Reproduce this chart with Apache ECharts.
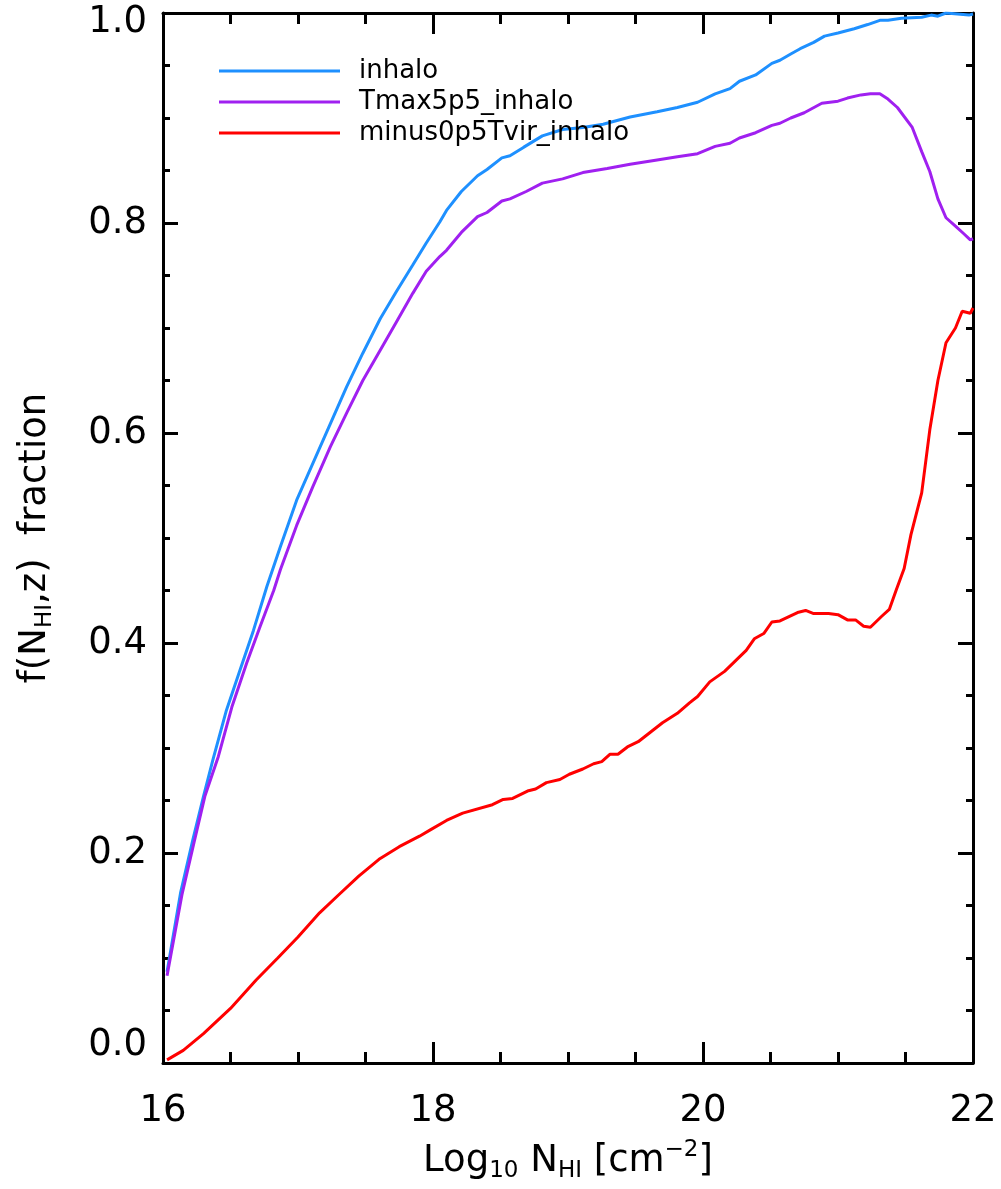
<!DOCTYPE html>
<html>
<head>
<meta charset="utf-8">
<script src="https://cdn.jsdelivr.net/npm/echarts@6/dist/echarts.min.js"></script>
<style>
  html, body { margin: 0; padding: 0; background: #fff; }
  #main { width: 1001px; height: 1189px; }
</style>
</head>
<body>
<div id="main"></div>
<script>
// values: [log10 NHI, fraction]
var inhalo = [
  [16.03,0.087],[16.13,0.162],[16.22,0.212],[16.30,0.254],[16.37,0.289],[16.47,0.336],
  [16.57,0.374],[16.67,0.412],[16.77,0.454],[16.87,0.492],[16.99,0.536],[17.11,0.571],
  [17.24,0.609],[17.36,0.644],[17.48,0.676],[17.61,0.709],[17.73,0.735],[17.85,0.760],
  [17.95,0.781],[18.05,0.801],[18.10,0.812],[18.21,0.830],[18.33,0.845],[18.40,0.851],
  [18.51,0.862],[18.57,0.864],[18.67,0.872],[18.81,0.883],[18.96,0.889],[19.11,0.891],
  [19.26,0.894],[19.46,0.901],[19.66,0.906],[19.81,0.910],[19.96,0.915],[20.09,0.923],
  [20.20,0.928],[20.27,0.935],[20.39,0.941],[20.51,0.952],[20.57,0.955],[20.65,0.961],
  [20.72,0.966],[20.82,0.972],[20.90,0.978],[21.00,0.981],[21.12,0.985],[21.22,0.989],
  [21.31,0.993],[21.37,0.993],[21.47,0.995],[21.62,0.996],[21.69,0.998],[21.74,0.997],
  [21.80,1.000],[21.97,0.998],[22.00,0.999]
];
var tmaxInhalo = [
  [16.03,0.083],[16.14,0.160],[16.23,0.210],[16.31,0.254],[16.41,0.292],[16.51,0.339],
  [16.62,0.381],[16.72,0.416],[16.82,0.450],[16.87,0.470],[16.99,0.512],[17.11,0.549],
  [17.24,0.587],[17.36,0.619],[17.48,0.650],[17.61,0.679],[17.73,0.706],[17.85,0.733],
  [17.95,0.754],[18.05,0.768],[18.10,0.774],[18.21,0.791],[18.33,0.806],[18.40,0.810],
  [18.51,0.821],[18.57,0.823],[18.69,0.830],[18.81,0.838],[18.96,0.842],[19.11,0.848],
  [19.29,0.852],[19.46,0.856],[19.66,0.860],[19.81,0.863],[19.96,0.866],[20.09,0.873],
  [20.20,0.876],[20.27,0.881],[20.39,0.886],[20.51,0.893],[20.57,0.895],[20.65,0.900],
  [20.75,0.905],[20.88,0.914],[21.00,0.916],[21.07,0.919],[21.17,0.922],[21.24,0.923],
  [21.31,0.923],[21.37,0.918],[21.44,0.910],[21.55,0.891],[21.62,0.868],[21.68,0.849],
  [21.74,0.823],[21.80,0.805],[21.87,0.797],[21.93,0.790],[21.98,0.784],[22.00,0.785]
];
var minusInhalo = [
  [16.03,0.003],[16.15,0.012],[16.30,0.028],[16.50,0.052],[16.69,0.079],[16.85,0.100],
  [17.00,0.120],[17.16,0.143],[17.30,0.160],[17.45,0.178],[17.60,0.194],[17.75,0.206],
  [17.90,0.216],[17.98,0.222],[18.10,0.231],[18.22,0.238],[18.44,0.246],[18.52,0.251],
  [18.59,0.252],[18.70,0.259],[18.76,0.261],[18.84,0.267],[18.94,0.270],[19.01,0.275],
  [19.11,0.280],[19.19,0.285],[19.25,0.287],[19.31,0.294],[19.37,0.294],[19.44,0.301],
  [19.52,0.306],[19.61,0.315],[19.70,0.324],[19.81,0.333],[19.90,0.343],[19.96,0.349],
  [20.05,0.363],[20.16,0.373],[20.32,0.393],[20.38,0.404],[20.45,0.409],[20.51,0.420],
  [20.57,0.421],[20.70,0.429],[20.76,0.431],[20.82,0.428],[20.93,0.428],[21.00,0.427],
  [21.07,0.422],[21.13,0.422],[21.19,0.416],[21.24,0.415],[21.32,0.425],[21.38,0.432],
  [21.43,0.450],[21.49,0.471],[21.54,0.503],[21.62,0.543],[21.68,0.603],[21.74,0.650],
  [21.80,0.686],[21.87,0.700],[21.92,0.716],[21.98,0.714],[22.00,0.719]
];
var seriesNames = ['inhalo', 'Tmax5p5_inhalo', 'minus0p5Tvir_inhalo'];
var colors = ['#1e90ff', '#a020f0', '#ff0000'];

var font = 'DejaVu Sans';
var nameRich = {
  n: { fontSize: 37, fontFamily: font, color: '#000', lineHeight: 44 },
  s: { fontSize: 23, fontFamily: font, color: '#000', verticalAlign: 'bottom', lineHeight: 20, padding: [10, 0, 0, 0] },
  p: { fontSize: 23, fontFamily: font, color: '#000', verticalAlign: 'top', lineHeight: 20, padding: [0, 0, 14, 0] }
};

function tickAxis(pos, extra) {
  var a = {
    type: 'value',
    position: pos,
    axisLine: { onZero: false, lineStyle: { color: '#000', width: 3 } },
    axisTick: { inside: true, lineStyle: { color: '#000', width: 3 } },
    minorTick: { show: true, splitNumber: 4, lineStyle: { color: '#000', width: 3 } },
    splitLine: { show: false },
    axisLabel: { show: false }
  };
  for (var k in extra) a[k] = extra[k];
  return a;
}

var xLabel = { show: true, fontSize: 37, fontFamily: font, color: '#000', margin: 30 };
var yLabel = {
  show: true, fontSize: 37, fontFamily: font, color: '#000', margin: 16,
  formatter: function (v) {
    if (v === 0) return '{lo|0.0}';
    if (v === 1) return '{hi|1.0}';
    return v.toFixed(1);
  },
  rich: {
    lo: { fontSize: 37, fontFamily: font, color: '#000', padding: [0, 0, 36, 0] },
    hi: { fontSize: 37, fontFamily: font, color: '#000', padding: [18, 0, 0, 0] }
  }
};

var xa = tickAxis('bottom', { min: 16, max: 22, interval: 2, axisLabel: xLabel,
  name: '{n|Log}{s|10}{n| N}{s|HI}{n| [cm}{p|\u22122}{n|]}',
  nameLocation: 'middle', nameGap: 76, nameTextStyle: { rich: nameRich } });
xa.axisTick.length = 21; xa.minorTick.length = 11;
var xb = tickAxis('top', { min: 16, max: 22, interval: 2 });
xb.axisTick.length = 21; xb.minorTick.length = 11;

var ya = tickAxis('left', { min: 0, max: 1, interval: 0.2, axisLabel: yLabel,
  name: '{n|f(N}{s|HI}{n|,z)  fraction}',
  nameLocation: 'middle', nameGap: 106, nameTextStyle: { rich: nameRich } });
ya.axisTick.length = 15; ya.minorTick.length = 7;
var yb = tickAxis('right', { min: 0, max: 1, interval: 0.2 });
yb.axisTick.length = 15; yb.minorTick.length = 7;

var chart = echarts.init(document.getElementById('main'));
chart.setOption({
  animation: false,
  backgroundColor: '#fff',
  grid: { left: 163, right: 28, top: 13, bottom: 126, containLabel: false, outerBoundsMode: 'none' },
  legend: {
    orient: 'vertical', left: 214, top: 53, itemGap: 5,
    icon: 'rect', itemWidth: 121, itemHeight: 3,
    textStyle: { fontSize: 26, fontFamily: font, color: '#000', lineHeight: 25, padding: [0, 0, 0, 14] },
    data: seriesNames
  },
  xAxis: [xa, xb],
  yAxis: [ya, yb],
  series: [
    { name: seriesNames[0], type: 'line', data: inhalo, color: colors[0], showSymbol: false, lineStyle: { width: 3 } },
    { name: seriesNames[1], type: 'line', data: tmaxInhalo, color: colors[1], showSymbol: false, lineStyle: { width: 3 } },
    { name: seriesNames[2], type: 'line', data: minusInhalo, color: colors[2], showSymbol: false, lineStyle: { width: 3 } }
  ]
});
</script>
</body>
</html>
